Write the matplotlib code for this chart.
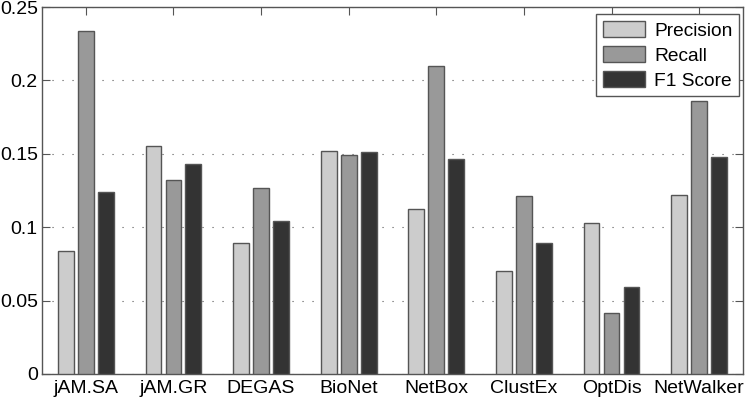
from matplotlib import pyplot as plt
import numpy as np

plt.rcParams['font.family'] = ['Liberation Sans', 'DejaVu Sans']

methods = ["jAM.SA", "jAM.GR", "DEGAS", "BioNet", "NetBox", "ClustEx", "OptDis", "NetWalker"]
precision = [0.0838, 0.1555, 0.0892, 0.152, 0.1122, 0.070, 0.1029, 0.122]
recall = [0.2337, 0.1319, 0.127, 0.149, 0.210, 0.121, 0.0413, 0.186]
f1 = [0.1238, 0.1433, 0.1044, 0.151, 0.1465, 0.089, 0.059, 0.1475]

series = ["Precision", "Recall", "F1 Score"]
colours = ["#cccccc", "#999999", "#333333"]

fig = plt.figure(figsize=(7.48, 4.0), dpi=100)
ax = fig.add_axes([0.0561, 0.065, 0.9372, 0.9175])

x = np.arange(1, len(methods) + 1)
offset = 0.228
w = 0.18
for i, (vals, c, lab) in enumerate(zip([precision, recall, f1], colours, series)):
    ax.bar(x + (i - 1) * offset, vals, w, color=c, edgecolor="#555555", linewidth=1.0, label=lab, zorder=3)

ax.set_xlim(0.5, 8.5)
ax.set_ylim(0, 0.25)
ax.set_xticks(x)
ax.set_xticklabels(methods, fontsize=14)
ax.set_yticks([0, 0.05, 0.1, 0.15, 0.2, 0.25])
ax.set_yticklabels(["0", "0.05", "0.1", "0.15", "0.2", "0.25"], fontsize=14)
ax.tick_params(axis="x", direction="in", top=True, bottom=False, length=6, color="#555555", pad=4)
ax.tick_params(axis="y", direction="in", right=True, length=6, color="#555555", pad=3)
ax.yaxis.grid(True, linestyle=(0, (1, 8)), color="#555555", linewidth=0.8, zorder=0)
for s in ax.spines.values():
    s.set_color("#555555")
    s.set_linewidth(1.0)

leg = ax.legend(loc="upper right", bbox_to_anchor=(0.9943, 0.981), borderaxespad=0,
                fontsize=13.8, fancybox=False, framealpha=1, edgecolor="#555555",
                handlelength=2.2, handleheight=0.95, handletextpad=0.47,
                labelspacing=0.32, borderpad=0.35)
leg.get_frame().set_linewidth(1.0)

fig.savefig("out.png", dpi=100)
